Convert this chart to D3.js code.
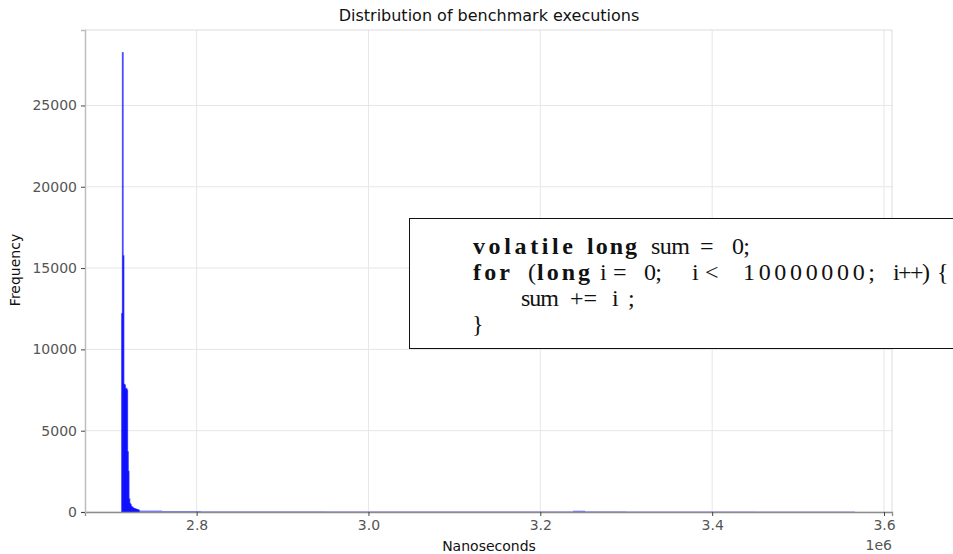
<!DOCTYPE html>
<html>
<head>
<meta charset="utf-8">
<script src="https://cdn.jsdelivr.net/npm/d3@7"></script>
<style>
  body { margin: 0; background: #fff; }
  svg { display: block; }
</style>
</head>
<body>
<svg id="chart" width="953" height="554"></svg>
<script>
// histogram head: bins of equal width starting at headStart
const headStart = 2712800
const binWidth = 854
const headCounts = [12200, 28250, 15750, 7850, 7800, 7550, 7600, 7500, 3700, 2500,
                    800, 520, 450, 330, 300, 260, 220, 200, 190, 170, 150, 140, 120, 110]

// long tail, as runs of bins sharing about the same per-bin count
const tailFrom  = [2733300, 2760000, 2805000, 2950000, 3100000, 3238000, 3252000, 3300000, 3450000]
const tailTo    = [2760000, 2805000, 2950000, 3100000, 3238000, 3252000, 3300000, 3450000, 3566000]
const tailCount = [90, 60, 40, 35, 35, 80, 40, 30, 25]

const xTicks = [2800000, 3000000, 3200000, 3400000, 3600000]
const yTicks = [0, 5000, 10000, 15000, 20000, 25000]

const codeLines = [
    [{t: "volatile", b: true}, {t: "long", b: true}, {t: "sum", b: false}, {t: "=", b: false}, {t: "0;", b: false}],
    [{t: "for", b: true}, {t: "(", b: false}, {t: "long", b: true}, {t: "i", b: false}, {t: "=", b: false}, {t: "0;", b: false},
     {t: "i", b: false}, {t: "<", b: false}, {t: "10000000;", b: false}, {t: "i++)", b: false}, {t: "{", b: false}],
    [{t: "sum", b: false}, {t: "+=", b: false}, {t: "i", b: false}, {t: ";", b: false}],
    [{t: "}", b: false}]
]
// word start positions and widths inside the box (pixels)
const codeX = [
    [473, 587, 651, 700, 732],
    [473, 528, 537, 600, 613, 644, 692, 705, 743, 893, 937],
    [521, 570, 612, 628],
    [472]
]
const codeW = [
    [100, 50, 39, 13, 18],
    [37, 0, 53, 0, 14, 18, 0, 14, 132, 37, 0],
    [38, 0, 0, 0],
    [0]
]

const svg = d3.select("#chart")
const mLeft = 85, mRight = 892, mTop = 30, mBottom = 512

const x = d3.scaleLinear().domain([2670100, 3609300]).range([mLeft, mRight])
const y = d3.scaleLinear().domain([0, 29640]).range([mBottom, mTop])

// grid
svg.append("g").selectAll("line").data(xTicks).join("line")
    .attr("x1", d => x(d)).attr("x2", d => x(d)).attr("y1", mTop).attr("y2", mBottom)
    .attr("stroke", "#e6e6e6").attr("stroke-width", 1)
svg.append("g").selectAll("line").data(yTicks).join("line")
    .attr("x1", mLeft).attr("x2", mRight).attr("y1", d => y(d)).attr("y2", d => y(d))
    .attr("stroke", "#e6e6e6").attr("stroke-width", 1)

// frame
svg.append("line").attr("x1", mLeft).attr("x2", mRight).attr("y1", mTop).attr("y2", mTop).attr("stroke", "#dcdcdc")
svg.append("line").attr("x1", mRight).attr("x2", mRight).attr("y1", mTop).attr("y2", mBottom).attr("stroke", "#dcdcdc")

// tail
svg.append("g").selectAll("rect").data(tailFrom).join("rect")
    .attr("x", (d, i) => x(d))
    .attr("width", (d, i) => x(tailTo[i]) - x(d))
    .attr("y", (d, i) => y(tailCount[i]))
    .attr("height", (d, i) => y(0) - y(tailCount[i]))
    .attr("fill", "blue").attr("fill-opacity", 0.5)

// head bars
svg.append("g").selectAll("rect").data(headCounts).join("rect")
    .attr("x", (d, i) => x(headStart + i * binWidth))
    .attr("width", x(headStart + binWidth) - x(headStart))
    .attr("y", d => y(d))
    .attr("height", d => y(0) - y(d))
    .attr("fill", "blue").attr("fill-opacity", 0.6)
    .attr("stroke", "blue").attr("stroke-opacity", 0.55).attr("stroke-width", 1.2)

// axes
const xAxis = svg.append("g").attr("transform", `translate(0,${mBottom})`)
    .call(d3.axisBottom(x).tickValues(xTicks).tickFormat(d => (d / 1e6).toFixed(1)).tickSize(4).tickPadding(4))
const yAxis = svg.append("g").attr("transform", `translate(${mLeft},0)`)
    .call(d3.axisLeft(y).tickValues(yTicks).tickFormat(d3.format("d")).tickSize(4).tickPadding(4))
xAxis.select(".domain").attr("stroke", "#8c8c8c").attr("stroke-width", 1.3)
yAxis.select(".domain").attr("stroke", "#bdbdbd").attr("stroke-width", 1.5)
svg.selectAll(".tick line").attr("stroke", "#444")
svg.selectAll(".tick text").attr("fill", "#555").attr("font-family", "DejaVu Sans").attr("font-size", 14)

// labels
svg.append("text").attr("x", 489).attr("y", 21).attr("text-anchor", "middle")
    .attr("font-family", "DejaVu Sans").attr("font-size", 16).attr("fill", "#111")
    .text("Distribution of benchmark executions")
svg.append("text").attr("x", 489).attr("y", 551).attr("text-anchor", "middle")
    .attr("font-family", "DejaVu Sans").attr("font-size", 14).attr("fill", "#111")
    .text("Nanoseconds")
svg.append("text").attr("transform", "translate(20,270) rotate(-90)").attr("text-anchor", "middle")
    .attr("font-family", "DejaVu Sans").attr("font-size", 14).attr("fill", "#111")
    .text("Frequency")
svg.append("text").attr("x", 892).attr("y", 550).attr("text-anchor", "end")
    .attr("font-family", "DejaVu Sans").attr("font-size", 14).attr("fill", "#555")
    .text("1e6")

// code box
svg.append("rect").attr("x", 409.5).attr("y", 218.5).attr("width", 560).attr("height", 130)
    .attr("fill", "white").attr("stroke", "#111").attr("stroke-width", 1)
const baselines = [254, 280, 306, 332]
codeLines.forEach((line, li) => {
    svg.append("g").selectAll("text").data(line).join("text")
        .attr("x", (d, i) => codeX[li][i])
        .attr("y", baselines[li])
        .attr("font-family", "Liberation Serif")
        .attr("font-size", 24)
        .attr("font-weight", d => d.b ? "bold" : "normal")
        .each(function (d, i) {
            const w = codeW[li][i]
            if (w > 0) d3.select(this).attr("textLength", w).attr("lengthAdjust", "spacing")
        })
        .attr("fill", "#111")
        .text(d => d.t)
})
</script>
</body>
</html>
